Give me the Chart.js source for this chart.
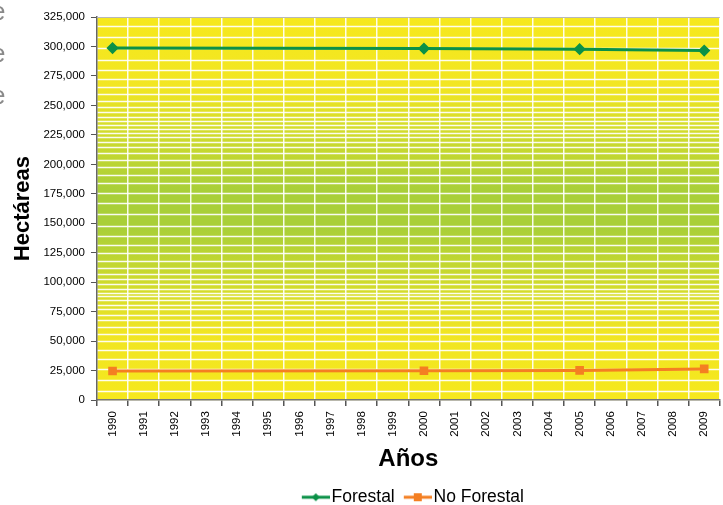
<!DOCTYPE html>
<html>
<head>
<meta charset="utf-8">
<script src="https://cdn.jsdelivr.net/npm/chart.js@4"></script>
<style>
  body { margin: 0; background: #fff; }
  #wrap { position: relative; width: 723px; height: 505px; overflow: hidden; }
  .clip { position: absolute; left: -9px; font: 26px "Liberation Sans", Arial, sans-serif; color: #8a8a8a; }
</style>
</head>
<body>
<div id="wrap">
  <canvas id="SuperficieChart" width="723" height="505"></canvas>
  <span class="clip" style="top:-4px">e</span>
  <span class="clip" style="top:38px">e</span>
  <span class="clip" style="top:80px">e</span>
</div>
<script>
// years on the x axis
const years = ["1990", "1991", "1992", "1993", "1994", "1995", "1996", "1997", "1998", "1999",
  "2000", "2001", "2002", "2003", "2004", "2005", "2006", "2007", "2008", "2009"];

// hectares, only measured years have values
const forestal = [298600, null, null, null, null, null, null, null, null, null,
  298200, null, null, null, null, 297700, null, null, null, 296500];
const noForestal = [24700, null, null, null, null, null, null, null, null, null,
  24900, null, null, null, null, 25200, null, null, null, 26500];

const yTicks = { min: 0, max: 325000, step: 25000 };

const fontFamily = '"Liberation Sans", Arial, sans-serif';

/**
 * little legend icon: a line with the marker in the middle.
 * The canvas is wider than the legend box (30) so the icon sits
 * close to its text, like in excel
 */
function legendIcon(color, shape) {
  let c = document.createElement("canvas");
  c.width = 44;
  c.height = 10;
  let ctx = c.getContext("2d");
  ctx.strokeStyle = color;
  ctx.fillStyle = color;
  ctx.lineWidth = 3;
  ctx.beginPath();
  ctx.moveTo(16, 5);
  ctx.lineTo(44, 5);
  ctx.stroke();
  ctx.beginPath();
  if (shape == "diamond") {
    ctx.moveTo(30, 1); ctx.lineTo(34, 5); ctx.lineTo(30, 9); ctx.lineTo(26, 5);
  } else {
    ctx.rect(26, 1, 8, 8);
  }
  ctx.fill();
  return c;
}

// excel style background: yellow / green gradient with white stripes
const plotBackground = {
  id: "plotBackground",
  beforeDraw(chart) {
    let ctx = chart.ctx;
    let a = chart.chartArea;
    let h = a.bottom - a.top;
    ctx.save();
    let g = ctx.createLinearGradient(0, a.top, 0, a.bottom);
    g.addColorStop(0, "#f6e81d");
    g.addColorStop(0.18, "#f2e622");
    g.addColorStop(0.45, "#a9cf38");
    g.addColorStop(0.55, "#a9cf38");
    g.addColorStop(0.82, "#f0e523");
    g.addColorStop(1, "#f6e81d");
    ctx.fillStyle = g;
    ctx.fillRect(a.left, a.top, a.right - a.left, h);

    ctx.strokeStyle = "rgba(255,255,255,0.92)";
    ctx.lineWidth = 1.4;
    let y = a.top + 9;
    while (y < a.bottom - 2) {
      ctx.beginPath();
      ctx.moveTo(a.left, Math.round(y) + 0.5);
      ctx.lineTo(a.right, Math.round(y) + 0.5);
      ctx.stroke();
      let f = (y - a.top) / h;
      let dense = Math.min(Math.abs(f - 0.28), Math.abs(f - 0.72));
      y += 3.6 + Math.min(dense, 0.2) * 38;
    }
    ctx.restore();
  },
  afterDraw(chart) {
    let ctx = chart.ctx;
    let a = chart.chartArea;
    ctx.save();
    ctx.strokeStyle = "#b8b8b8";
    ctx.lineWidth = 1;
    ctx.beginPath();
    ctx.moveTo(a.left, a.top + 0.5);
    ctx.lineTo(a.right, a.top + 0.5);
    ctx.stroke();
    ctx.restore();
  }
};

function DrawSuperficieChart() {
  const data = {
    labels: years,
    datasets: [{
      label: "Forestal",
      data: forestal,
      borderColor: "#0b9147",
      backgroundColor: "#0b9147",
      borderWidth: 3,
      pointStyle: "rectRot",
      pointRadius: 4,
      spanGaps: true
    }, {
      label: "No Forestal",
      data: noForestal,
      borderColor: "#f47f22",
      backgroundColor: "#f47f22",
      borderWidth: 3,
      pointStyle: "rect",
      pointRadius: 4,
      spanGaps: true
    }]
  };

  const config = {
    type: "line",
    data: data,
    options: {
      responsive: false,
      animation: false,
      layout: { autoPadding: false, padding: { top: 17, right: 0, left: 10, bottom: -11 } },
      plugins: {
        legend: {
          position: "bottom",
          fullSize: false,
          labels: {
            usePointStyle: true,
            pointStyleWidth: 30,
            color: "#000",
            font: { family: fontFamily, size: 17.5 },
            padding: 0,
            generateLabels: function (chart) {
              return chart.data.datasets.map((ds, i) => ({
                text: ds.label,
                fontColor: "#000",
                pointStyle: legendIcon(ds.borderColor, i == 0 ? "diamond" : "square"),
                datasetIndex: i,
                lineWidth: 0,
                strokeStyle: "transparent",
                fillStyle: "transparent"
              }));
            }
          }
        },
        tooltip: { enabled: false }
      },
      scales: {
        x: {
          offset: true,
          grid: {
            offset: true,
            color: "rgba(255,255,255,0.9)",
            lineWidth: 1.5,
            tickColor: "#555",
            tickLength: 6
          },
          border: { color: "#777", width: 1.5 },
          ticks: {
            color: "#000",
            padding: 5,
            font: { family: fontFamily, size: 11.5 },
            maxRotation: 90,
            minRotation: 90,
            autoSkip: false
          },
          title: {
            display: true,
            text: "Años",
            color: "#000",
            font: { family: fontFamily, size: 24, weight: "bold" },
            padding: { top: 3, bottom: 15 }
          }
        },
        y: {
          min: yTicks.min,
          max: yTicks.max,
          grid: {
            drawOnChartArea: false,
            tickColor: "#555",
            tickLength: 6
          },
          border: { color: "#666", width: 1.5 },
          ticks: {
            stepSize: yTicks.step,
            color: "#000",
            padding: 6,
            font: { family: fontFamily, size: 11.5 },
            callback: function (value) {
              return value.toLocaleString("en-US");
            }
          },
          title: {
            display: true,
            text: "Hectáreas",
            color: "#000",
            font: { family: fontFamily, size: 22, weight: "bold" },
            padding: { top: 0, bottom: 1 }
          }
        }
      }
    },
    plugins: [plotBackground]
  };

  new Chart(document.getElementById("SuperficieChart"), config);
}

DrawSuperficieChart();
</script>
</body>
</html>
